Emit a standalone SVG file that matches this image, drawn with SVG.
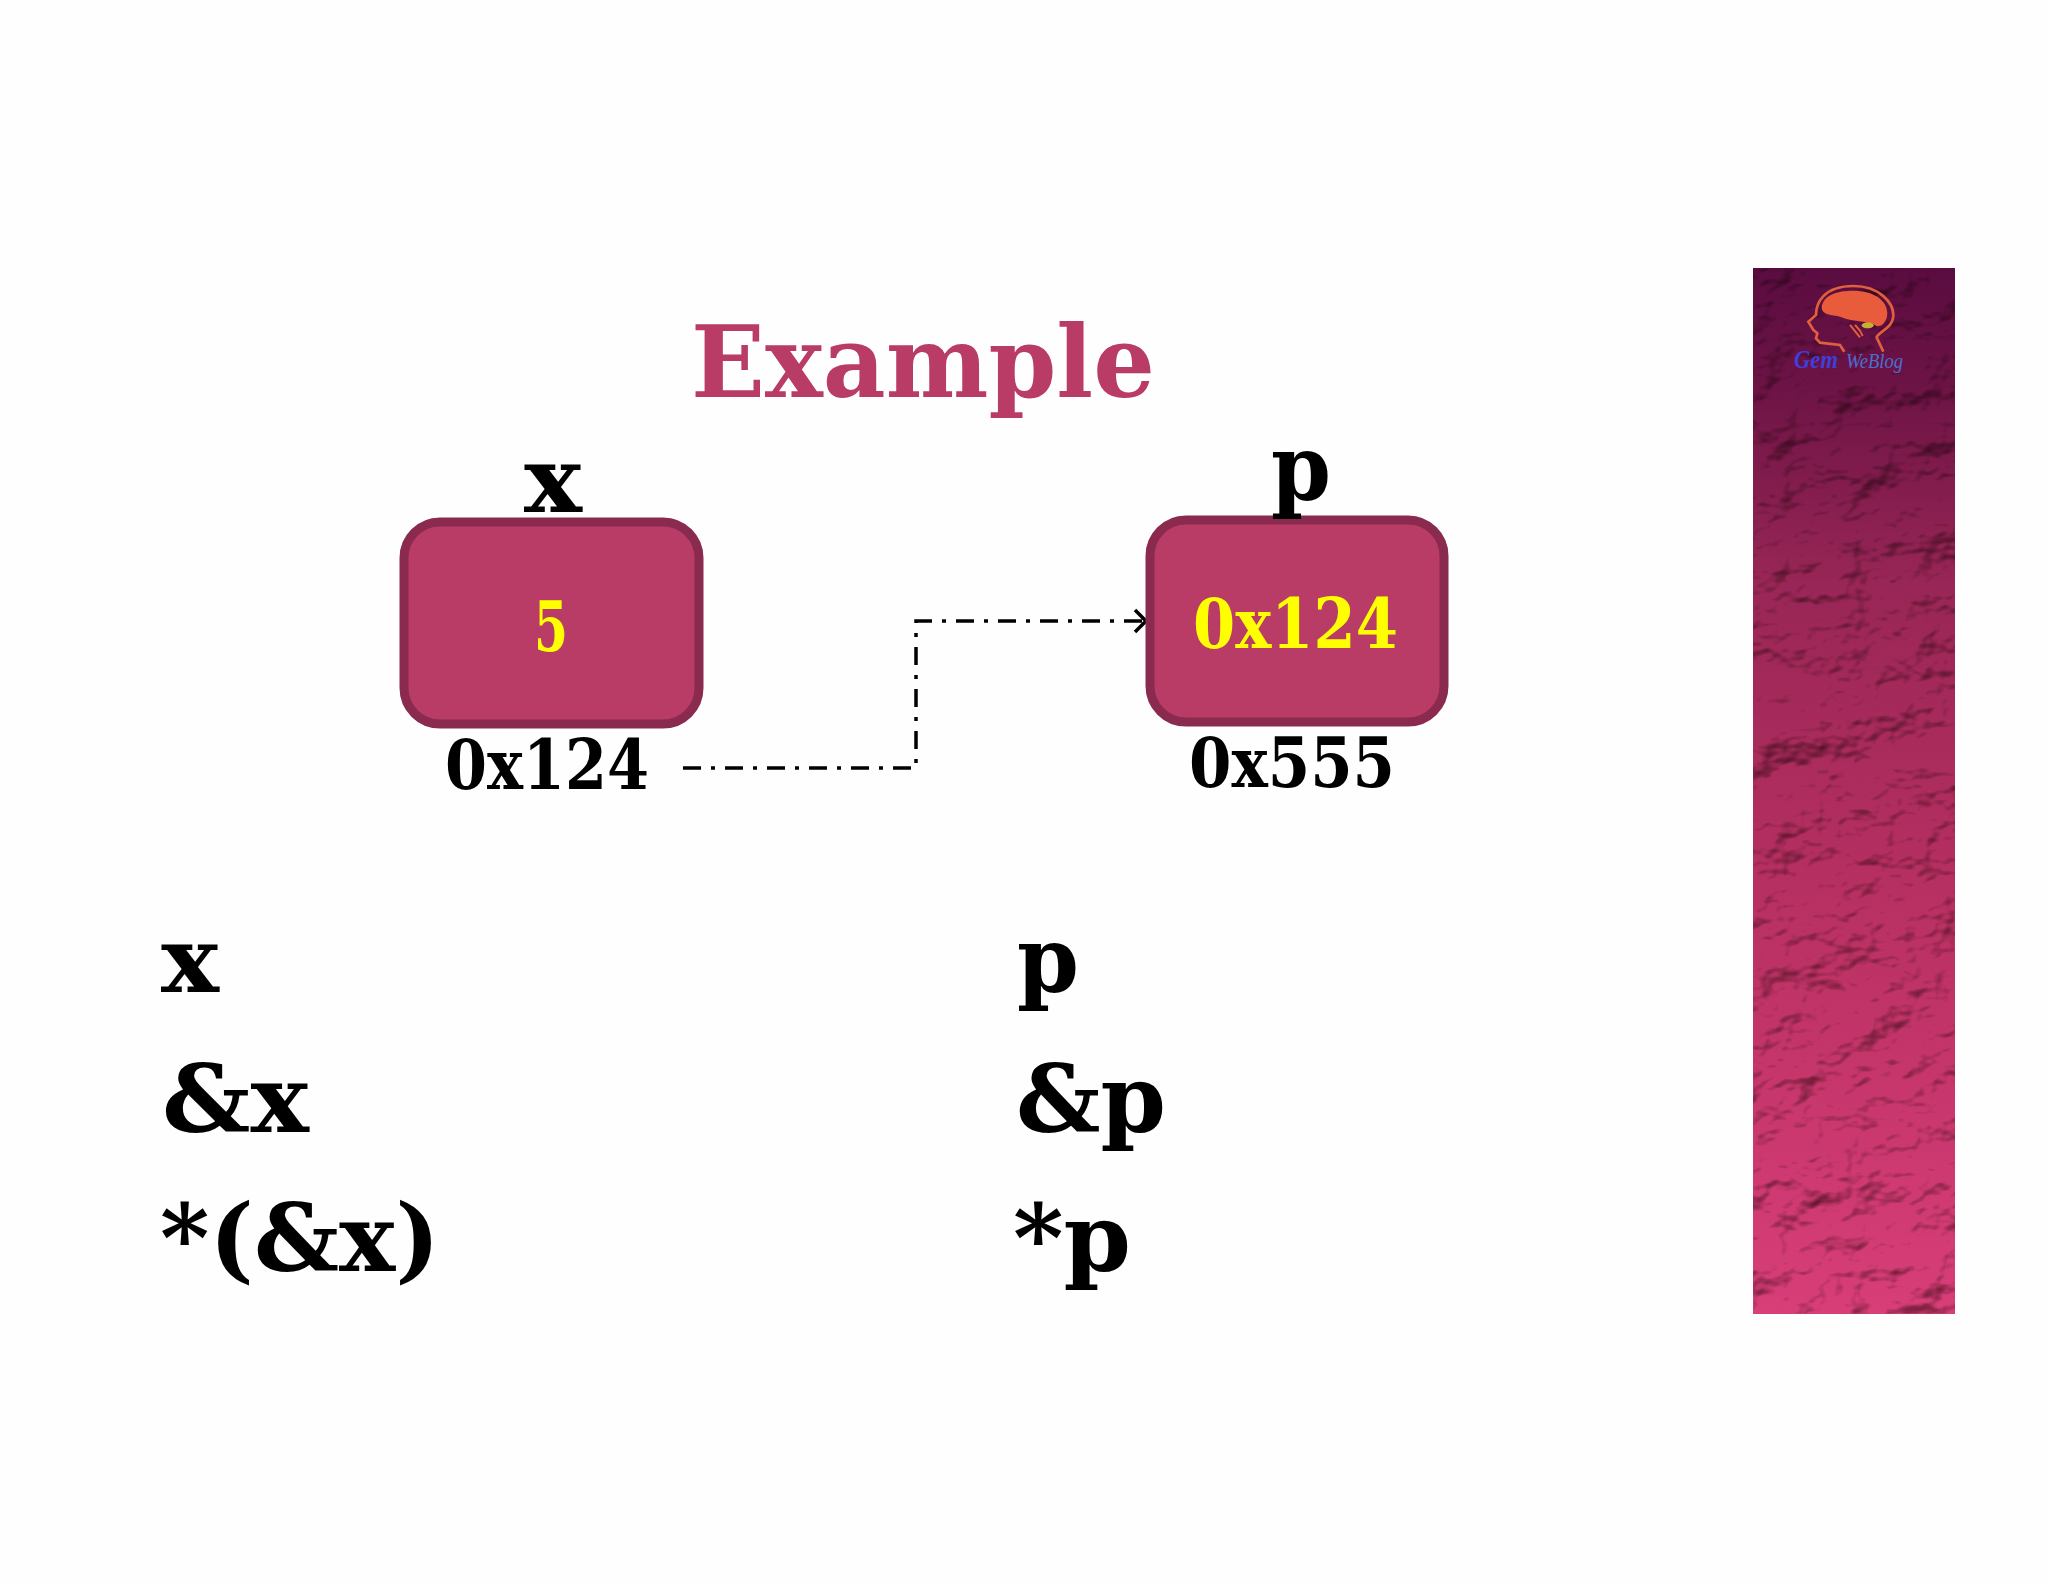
<svg xmlns="http://www.w3.org/2000/svg" width="2048" height="1582" viewBox="0 0 2048 1582">
<style>
.t{font-family:"DejaVu Serif","Liberation Serif",serif;font-weight:700;fill:#000}
.box{fill:#b83c66;stroke:#8a2a4e;stroke-width:9}
.conn{fill:none;stroke:#000;stroke-width:3.5;stroke-dasharray:18 10 4 10}
</style>
<defs>
<linearGradient id="strip" x1="0" y1="0" x2="0" y2="1">
<stop offset="0" stop-color="#5a0c40"/>
<stop offset=".12" stop-color="#6e1446"/>
<stop offset=".3" stop-color="#982656"/>
<stop offset=".6" stop-color="#b83062"/>
<stop offset="1" stop-color="#d83e78"/>
</linearGradient>
<filter id="crumple" filterUnits="userSpaceOnUse" x="1753" y="268" width="202" height="1046" color-interpolation-filters="sRGB">
<feTurbulence type="fractalNoise" baseFrequency=".014 .02" numOctaves="4" seed="7" result="n"/>
<feDiffuseLighting in="n" surfaceScale="16" diffuseConstant="1.25" lighting-color="#fff" result="l">
<feDistantLight azimuth="235" elevation="60"/>
</feDiffuseLighting>
<feComponentTransfer in="l" result="s">
<feFuncR type="linear" slope=".62" intercept=".4"/>
<feFuncG type="linear" slope=".7" intercept=".32"/>
<feFuncB type="linear" slope=".7" intercept=".32"/>
</feComponentTransfer>
<feBlend in="SourceGraphic" in2="s" mode="multiply" result="m"/>
<feComposite in="m" in2="SourceAlpha" operator="in"/>
</filter>
<marker id="arr" markerUnits="userSpaceOnUse" markerWidth="20" markerHeight="26" refX="16" refY="13" orient="auto">
<path d="M5 2 L16 13 L5 24" fill="none" stroke="#000" stroke-width="3.5"/>
</marker>
</defs>
<rect width="2048" height="1582" fill="#fefefe"/>
<g id="strip-panel">
<rect x="1753" y="268" width="202" height="1046" fill="url(#strip)" filter="url(#crumple)"/>
<g id="logo">
<g transform="translate(1740 250) scale(.3333)">
<path d="M313 305 L300 285 L240 278 L228 265 L232 250 L220 240 L205 215 L228 195 C228 160 250 108 340 108 C420 108 460 160 460 195 C460 235 415 245 410 262 L430 305" fill="none" stroke="#e0603c" stroke-width="8"/>
<path d="M245 172 C250 135 290 122 340 122 C400 122 442 150 442 190 C442 215 425 232 410 228 C385 210 345 218 300 200 C275 195 245 195 245 172 Z" fill="#e85c3c"/>
<path d="M330 225 L360 262 M345 225 C355 235 362 240 368 258" fill="none" stroke="#e0603c" stroke-width="6"/>
<ellipse cx="383" cy="226" rx="18" ry="9" fill="#c8b030"/>
</g>
<text x="1794" y="368" font-family="Liberation Serif,serif" font-weight="700" font-style="italic" font-size="26" fill="#3d3fd8" textLength="44" lengthAdjust="spacingAndGlyphs">Gem</text>
<text x="1846" y="368" font-family="Liberation Serif,serif" font-style="italic" font-size="20" fill="#4a6fd0" textLength="57" lengthAdjust="spacingAndGlyphs">WeBlog</text>
</g>
</g>
<g id="title"><text class="t" x="691" y="397" font-size="100" style="fill:#b83c66" textLength="464" lengthAdjust="spacingAndGlyphs">Example</text></g>
<g id="connectors">
<path class="conn" d="M683 768 H916 V621 H1146" marker-end="url(#arr)"/>
</g>
<g id="node-x">
<rect class="box" x="404" y="522" width="295" height="202" rx="36"/>
<text class="t" x="524" y="512" font-size="92" textLength="58" lengthAdjust="spacingAndGlyphs">x</text>
<text class="t" x="534" y="651" font-size="70" style="fill:#ff0" textLength="34" lengthAdjust="spacingAndGlyphs">5</text>
<text class="t" x="445" y="789" font-size="70" textLength="204" lengthAdjust="spacingAndGlyphs">0x124</text>
</g>
<g id="node-p">
<rect class="box" x="1150" y="520" width="294" height="202" rx="36"/>
<text class="t" x="1271" y="500" font-size="92" textLength="60" lengthAdjust="spacingAndGlyphs">p</text>
<text class="t" x="1193" y="648" font-size="70" style="fill:#ff0" textLength="205" lengthAdjust="spacingAndGlyphs">0x124</text>
<text class="t" x="1189" y="787" font-size="70" textLength="206" lengthAdjust="spacingAndGlyphs">0x555</text>
</g>
<g id="list-x">
<text class="t" x="161" y="992" font-size="92" textLength="58" lengthAdjust="spacingAndGlyphs">x</text>
<text class="t" x="162" y="1132" font-size="94" textLength="147" lengthAdjust="spacingAndGlyphs">&amp;x</text>
<text class="t" x="160" y="1271" font-size="94" textLength="280" lengthAdjust="spacingAndGlyphs">*(&amp;x)</text>
</g>
<g id="list-p">
<text class="t" x="1017" y="992" font-size="92" textLength="62" lengthAdjust="spacingAndGlyphs">p</text>
<text class="t" x="1016" y="1132" font-size="94" textLength="150" lengthAdjust="spacingAndGlyphs">&amp;p</text>
<text class="t" x="1013" y="1271" font-size="94" textLength="118" lengthAdjust="spacingAndGlyphs">*p</text>
</g>
</svg>
